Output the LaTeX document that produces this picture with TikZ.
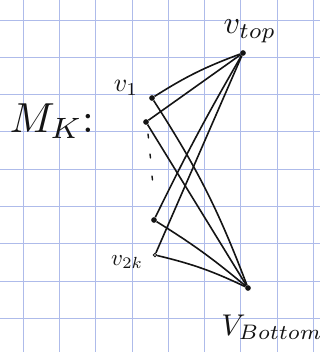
\documentclass[tikz,border=0pt]{standalone}
\usepackage{tikz}
\definecolor{gridline}{HTML}{AEBBEA}
\definecolor{ink}{HTML}{141414}

\tikzset{
  vert/.style={circle,fill=ink,inner sep=2pt},
  openvert/.style={circle,draw=ink,fill=white,inner sep=1.3pt,line width=0.9pt},
  edge/.style={ink,line width=1.6pt},
  lab/.style={text=ink,inner sep=0pt}
}

\begin{document}
\begin{tikzpicture}[x=1pt,y=-1pt]
    \useasboundingbox (0,0) rectangle (320,352);
    % squared paper
    \fill[white] (0,0) rectangle (320,352);
    \foreach \gx in {0,...,8}{
            \draw[gridline,line width=0.8pt] ({23+36.3*\gx},0) -- ({23+36.3*\gx},352);
        }
    \foreach \gy in {0,...,8}{
            \draw[gridline,line width=0.8pt] (0,{20+37.3*\gy}) -- (320,{20+37.3*\gy});
        }

    % vertices
    \node[vert] (vtop) at (243,53) {};
    \node[vert] (v1) at (152,98) {};
    \node[vert] (v2) at (146,122) {};
    \node[vert] (v3) at (154,220) {};
    \node[openvert] (v2k) at (155,255) {};
    \node[vert] (vbot) at (248,288) {};

    % labels
    \node[lab,scale=3.2] (ltop) at (250,31) {$v_{top}$};
    \node[lab,scale=2.6] (l1) at (126,88) {$v_1$};
    \node[lab,scale=2.3] (l2k) at (127,262) {$v_{2k}$};
    \node[lab,scale=3] (lbot) at (272,327) {$V_{Bottom}$};
    \node[lab,scale=4.2] (mk) at (52,121) {$M_K$:};

    % dots between v2 and v3
    \foreach \dx/\dy in {148/136, 150/156, 152/178}{
            \draw[ink,line width=1.4pt,line cap=round] (\dx,\dy-2) -- (\dx+0.5,\dy+2);
        }

    % edges to v_top
    \draw[edge] (v1) to[bend left=6] (vtop);
    \draw[edge] (v2) -- (vtop);
    \draw[edge] (v3) to[bend left=2] (vtop);
    \draw[edge] (v2k) -- (vtop);

    % edges to v_bottom
    \draw[edge] (v1) to[bend left=6] (vbot);
    \draw[edge] (v2) -- (vbot);
    \draw[edge] (v3) to[bend left=4] (vbot);
    \draw[edge] (v2k) to[bend left=6] (vbot);
\end{tikzpicture}
\end{document}
